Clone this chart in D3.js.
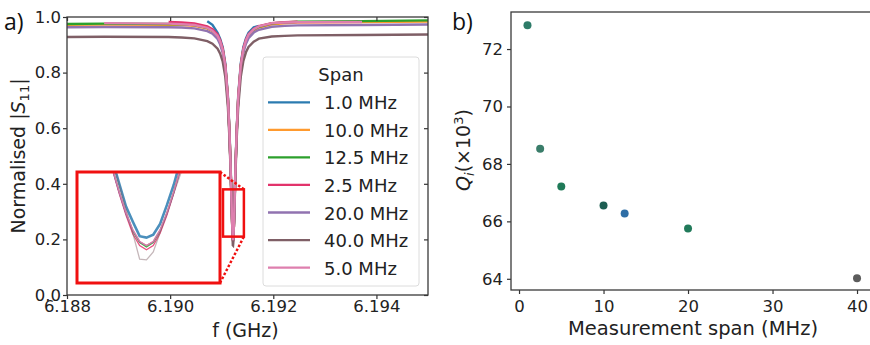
<!DOCTYPE html>
<html>
<head>
<meta charset="utf-8">
<script src="https://cdn.jsdelivr.net/npm/d3@7"></script>
<style>
  body { margin: 0; background: #fff; }
  svg { display: block; font-family: "DejaVu Sans", sans-serif; }
  .tick text { fill: #222; }
</style>
</head>
<body>
<svg id="chart" width="870" height="345"></svg>
<script>
// resonance centre in GHz; sweep points are stored as offsets from it in MHz
const F0 = 6.19122;

const offsetsMHz = [-3.22, -2.5, -1.25, -1.0, -0.75, -0.5, -0.4, -0.3, -0.25, -0.2,
  -0.15, -0.1, -0.07, -0.05, -0.04, -0.03, -0.02, -0.015, -0.01, -0.005,
  0, 0.005, 0.01, 0.015, 0.02, 0.03, 0.04, 0.05, 0.07, 0.1,
  0.15, 0.2, 0.25, 0.3, 0.4, 0.5, 0.75, 1.0, 1.25, 2.5, 3.78];

// normalised |S11| for each measurement span (null = outside that sweep)
const span1 = [null, null, null, null, null, 0.985, 0.972, 0.943, 0.921, 0.891,
  0.832, 0.716, 0.594, 0.481, 0.417, 0.348, 0.284, 0.252, 0.231, 0.211,
  0.209, 0.213, 0.228, 0.254, 0.282, 0.350, 0.416, 0.483, 0.593, 0.717,
  0.833, 0.892, 0.923, 0.944, 0.963, 0.968, null, null, null, null, null];
const span10 = [0.972, 0.973, 0.972, 0.971, 0.968, 0.958, 0.949, 0.929, 0.909, 0.879,
  0.820, 0.705, 0.583, 0.472, 0.406, 0.338, 0.272, 0.243, 0.219, 0.203,
  0.198, 0.203, 0.219, 0.243, 0.272, 0.338, 0.406, 0.472, 0.584, 0.706,
  0.821, 0.880, 0.912, 0.932, 0.952, 0.962, 0.974, 0.977, 0.980, 0.982, 0.984];
const span12_5 = [0.975, 0.976, 0.975, 0.974, 0.971, 0.961, 0.952, 0.932, 0.912, 0.882,
  0.823, 0.707, 0.585, 0.473, 0.407, 0.338, 0.272, 0.242, 0.218, 0.202,
  0.196, 0.202, 0.218, 0.242, 0.272, 0.339, 0.407, 0.473, 0.585, 0.708,
  0.824, 0.883, 0.915, 0.935, 0.955, 0.965, 0.977, 0.980, 0.983, 0.985, 0.988];
const span2_5 = [null, null, 0.982, 0.980, 0.977, 0.966, 0.956, 0.937, 0.917, 0.886,
  0.826, 0.710, 0.586, 0.474, 0.407, 0.337, 0.270, 0.240, 0.214, 0.198,
  0.192, 0.198, 0.215, 0.240, 0.270, 0.338, 0.408, 0.475, 0.587, 0.711,
  0.827, 0.887, 0.918, 0.938, 0.957, 0.967, 0.978, 0.981, 0.983, null, null];
const span20 = [0.963, 0.964, 0.963, 0.962, 0.959, 0.949, 0.940, 0.921, 0.901, 0.871,
  0.813, 0.699, 0.578, 0.468, 0.403, 0.336, 0.271, 0.242, 0.219, 0.203,
  0.198, 0.203, 0.219, 0.242, 0.271, 0.336, 0.404, 0.468, 0.579, 0.700,
  0.815, 0.873, 0.904, 0.924, 0.944, 0.954, 0.965, 0.968, 0.970, 0.971, 0.973];
const span40 = [0.928, 0.929, 0.928, 0.926, 0.923, 0.913, 0.904, 0.886, 0.868, 0.839,
  0.784, 0.676, 0.562, 0.458, 0.398, 0.349, 0.282, 0.248, 0.215, 0.179,
  0.178, 0.189, 0.216, 0.243, 0.270, 0.324, 0.390, 0.452, 0.560, 0.676,
  0.786, 0.842, 0.873, 0.892, 0.911, 0.922, 0.930, 0.932, 0.934, 0.935, 0.937];
const span5 = [null, 0.978, 0.976, 0.974, 0.971, 0.961, 0.951, 0.932, 0.912, 0.881,
  0.822, 0.707, 0.584, 0.473, 0.407, 0.339, 0.273, 0.244, 0.220, 0.204,
  0.198, 0.204, 0.220, 0.244, 0.273, 0.339, 0.408, 0.474, 0.585, 0.708,
  0.825, 0.884, 0.916, 0.936, 0.956, 0.966, 0.978, 0.980, 0.981, 0.982, null];

const spanLabels = ['1.0 MHz', '10.0 MHz', '12.5 MHz', '2.5 MHz', '20.0 MHz', '40.0 MHz', '5.0 MHz'];
const spanSeries = [span1, span10, span12_5, span2_5, span20, span40, span5];

// region of panel a that the inset magnifies (MHz offset, |S11|)
const zoomOffsets = [-0.195, 0.21];
const zoomValues = [0.21, 0.38];

// panel b: fitted internal quality factor
const measSpan = [1, 2.5, 5, 10, 12.5, 20, 40];
const qInternal = [72.83, 68.53, 67.21, 66.55, 66.27, 65.75, 64.02];

const xTicksA = [6.188, 6.190, 6.192, 6.194];
const yTicksA = [0, 0.2, 0.4, 0.6, 0.8, 1.0];
const xTicksB = [0, 10, 20, 30, 40];
const yTicksB = [64, 66, 68, 70, 72];

const lineColors = ['#2b7bb0', '#ff9a2e', '#2ca02c', '#e2336b', '#9173b0', '#7f5f66', '#de7fae'];
const pointColors = ['#2d7b68', '#3a7d6a', '#1f7a58', '#1d5e52', '#2e6ea6', '#217a5a', '#5c5c5c'];

const svg = d3.select('#chart');
const toGHz = o => F0 + o / 1000;

function styleAxis(g, size) {
  g.select('.domain').remove();
  g.selectAll('.tick line').attr('stroke', '#333').attr('stroke-width', 1.2);
  g.selectAll('.tick text').attr('font-size', size).attr('font-family', '"DejaVu Sans", sans-serif');
}

/* ---------- panel a ---------- */
const xA = d3.scaleLinear().domain([6.188, 6.195]).range([67, 428]);
const yA = d3.scaleLinear().domain([0, 1]).range([295, 17]);

svg.append('clipPath').attr('id', 'clipA').append('rect')
  .attr('x', xA.range()[0]).attr('y', yA.range()[1])
  .attr('width', xA.range()[1] - xA.range()[0]).attr('height', yA.range()[0] - yA.range()[1]);

const lineA = d3.line()
  .defined(d => d.v != null)
  .x(d => xA(toGHz(d.o)))
  .y(d => yA(d.v));

const curvesA = svg.append('g').attr('clip-path', 'url(#clipA)');
spanSeries.forEach((s, i) => {
  curvesA.append('path')
    .datum(offsetsMHz.map((o, k) => ({o: o, v: s[k]})))
    .attr('d', lineA)
    .attr('fill', 'none')
    .attr('stroke', lineColors[i])
    .attr('stroke-width', 2.4);
});

// axes a
svg.append('g').attr('transform', `translate(0,${yA.range()[0]})`)
  .call(d3.axisBottom(xA).tickValues(xTicksA).tickFormat(d3.format('.3f')).tickSize(4).tickPadding(1).tickSizeOuter(0))
  .call(g => styleAxis(g, 16.5));
svg.append('g').attr('transform', `translate(${xA.range()[0]},0)`)
  .call(d3.axisLeft(yA).tickValues(yTicksA).tickFormat(d3.format('.1f')).tickSize(4).tickPadding(2).tickSizeOuter(0))
  .call(g => styleAxis(g, 16.5));
// inward ticks on top and right
svg.append('g').attr('transform', `translate(0,${yA.range()[1]})`)
  .call(d3.axisBottom(xA).tickValues(xTicksA).tickFormat('').tickSize(4).tickSizeOuter(0))
  .call(g => styleAxis(g, 0));
svg.append('g').attr('transform', `translate(${xA.range()[1]},0)`)
  .call(d3.axisRight(yA).tickValues(yTicksA).tickFormat('').tickSize(-4).tickSizeOuter(0))
  .call(g => styleAxis(g, 0));

svg.append('rect')
  .attr('x', xA.range()[0]).attr('y', yA.range()[1])
  .attr('width', xA.range()[1] - xA.range()[0]).attr('height', yA.range()[0] - yA.range()[1])
  .attr('fill', 'none').attr('stroke', '#3a3a3a').attr('stroke-width', 1.3);

svg.append('text')
  .attr('x', (xA.range()[0] + xA.range()[1]) / 2 - 2).attr('y', 337)
  .attr('text-anchor', 'middle').attr('font-size', 19).attr('fill', '#222')
  .text('f (GHz)');

const yLabA = svg.append('text')
  .attr('transform', 'translate(25,156) rotate(-90)')
  .attr('text-anchor', 'middle').attr('font-size', 19).attr('fill', '#222');
yLabA.append('tspan').text('Normalised |');
yLabA.append('tspan').attr('font-style', 'italic').text('S');
yLabA.append('tspan').attr('font-size', 13).attr('dy', 4).text('11');
yLabA.append('tspan').attr('dy', -4).text('|');

// legend
const legend = svg.append('g');
legend.append('rect')
  .attr('x', 263).attr('y', 57).attr('width', 156).attr('height', 229).attr('rx', 3)
  .attr('fill', '#fff').attr('fill-opacity', 0.8)
  .attr('stroke', '#dcdcdc').attr('stroke-width', 1);
legend.append('text')
  .attr('x', 341).attr('y', 81).attr('text-anchor', 'middle')
  .attr('font-size', 18).attr('fill', '#222').text('Span');
spanLabels.forEach((lab, i) => {
  const y = 102.3 + i * 27.55;
  legend.append('line')
    .attr('x1', 268).attr('x2', 310).attr('y1', y).attr('y2', y)
    .attr('stroke', lineColors[i]).attr('stroke-width', 2.3);
  legend.append('text')
    .attr('x', 324).attr('y', y + 7)
    .attr('font-size', 18).attr('fill', '#222').text(lab);
});

// inset zoom
const xIn = d3.scaleLinear().domain([-0.051, 0.054]).range([77, 220]);
const yIn = d3.scaleLinear().domain([0.146, 0.30]).range([283, 172]);

svg.append('clipPath').attr('id', 'clipIn').append('rect')
  .attr('x', xIn.range()[0]).attr('y', yIn.range()[1])
  .attr('width', xIn.range()[1] - xIn.range()[0]).attr('height', yIn.range()[0] - yIn.range()[1]);

svg.append('rect')
  .attr('x', xIn.range()[0]).attr('y', yIn.range()[1])
  .attr('width', xIn.range()[1] - xIn.range()[0]).attr('height', yIn.range()[0] - yIn.range()[1])
  .attr('fill', '#fff');

const lineIn = d3.line()
  .defined(d => d.v != null)
  .x(d => xIn(d.o))
  .y(d => yIn(d.v));

const curvesIn = svg.append('g').attr('clip-path', 'url(#clipIn)');
spanSeries.forEach((s, i) => {
  curvesIn.append('path')
    .datum(offsetsMHz.map((o, k) => ({o: o, v: s[k]})))
    .attr('d', lineIn)
    .attr('fill', 'none')
    .attr('stroke', lineColors[i])
    .attr('stroke-opacity', i === 5 ? 0.45 : 0.85)
    .attr('stroke-width', i === 0 ? 2.6 : 1.3);
});

svg.append('rect')
  .attr('x', xIn.range()[0]).attr('y', yIn.range()[1])
  .attr('width', xIn.range()[1] - xIn.range()[0]).attr('height', yIn.range()[0] - yIn.range()[1])
  .attr('fill', 'none').attr('stroke', '#f01010').attr('stroke-width', 3);

const zx0 = xA(toGHz(zoomOffsets[0])), zx1 = xA(toGHz(zoomOffsets[1]));
const zy0 = yA(zoomValues[1]), zy1 = yA(zoomValues[0]);
svg.append('rect')
  .attr('x', zx0).attr('y', zy0).attr('width', zx1 - zx0).attr('height', zy1 - zy0)
  .attr('fill', 'none').attr('stroke', '#f01010').attr('stroke-width', 2.5);

[[yIn.range()[1], zy0], [yIn.range()[0], zy1]].forEach(([ya, yb]) => {
  svg.append('line')
    .attr('x1', xIn.range()[1]).attr('y1', ya)
    .attr('x2', zx1).attr('y2', yb)
    .attr('stroke', '#f01010').attr('stroke-width', 2.5)
    .attr('stroke-dasharray', '2.5,2');
});

svg.append('text').attr('x', 4).attr('y', 30)
  .attr('font-family', '"Open Sans", sans-serif').attr('font-size', 23).attr('fill', '#111')
  .text('a)');

/* ---------- panel b ---------- */
const xB = d3.scaleLinear().domain([-0.95, 41.95]).range([511, 873.5]);
const yB = d3.scaleLinear().domain([63.61, 73.29]).range([290, 12]);

svg.append('g').attr('transform', `translate(0,${yB.range()[0]})`)
  .call(d3.axisBottom(xB).tickValues(xTicksB).tickSize(4).tickPadding(6).tickSizeOuter(0))
  .call(g => styleAxis(g, 16.5));
svg.append('g').attr('transform', `translate(${xB.range()[0]},0)`)
  .call(d3.axisLeft(yB).tickValues(yTicksB).tickSize(4).tickPadding(4).tickSizeOuter(0))
  .call(g => styleAxis(g, 16.5));

svg.append('rect')
  .attr('x', xB.range()[0]).attr('y', yB.range()[1])
  .attr('width', xB.range()[1] - xB.range()[0]).attr('height', yB.range()[0] - yB.range()[1])
  .attr('fill', 'none').attr('stroke', '#3a3a3a').attr('stroke-width', 1.3);

svg.append('g').selectAll('circle')
  .data(measSpan.map((s, i) => ({s: s, q: qInternal[i], c: pointColors[i]})))
  .join('circle')
  .attr('cx', d => xB(d.s))
  .attr('cy', d => yB(d.q))
  .attr('r', 4)
  .attr('fill', d => d.c);

svg.append('text')
  .attr('x', 693).attr('y', 335)
  .attr('text-anchor', 'middle').attr('font-size', 19.5).attr('fill', '#222')
  .text('Measurement span (MHz)');

const yLabB = svg.append('text')
  .attr('transform', 'translate(470,150) rotate(-90)')
  .attr('text-anchor', 'middle').attr('font-size', 19).attr('fill', '#222');
yLabB.append('tspan').attr('font-style', 'italic').text('Q');
yLabB.append('tspan').attr('font-style', 'italic').attr('font-size', 13).attr('dy', 4).text('i');
yLabB.append('tspan').attr('dy', -4).text('(×10');
yLabB.append('tspan').attr('font-size', 13).attr('dy', -7).text('3');
yLabB.append('tspan').attr('dy', 7).text(')');

svg.append('text').attr('x', 452).attr('y', 30)
  .attr('font-family', '"Open Sans", sans-serif').attr('font-size', 23).attr('fill', '#111')
  .text('b)');
</script>
</body>
</html>
